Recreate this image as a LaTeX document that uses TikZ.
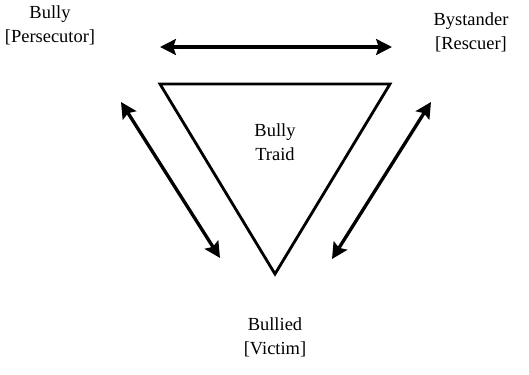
\documentclass[tikz,border=0pt]{standalone}
\usepackage{fontspec}
\setmainfont{Liberation Serif}
\usetikzlibrary{arrows.meta}
\begin{document}
\begin{tikzpicture}[x=0.02cm, y=-0.02cm, every node/.style={align=center, font=\fontsize{10.5}{13.6}\selectfont, inner sep=0pt},<->,>={Stealth[length=9pt,width=9pt,inset=1.5pt]},line width=1.9pt]
            \useasboundingbox (0,0) rectangle (529,375);
            \coordinate (tl) at (160,84);
            \coordinate (tr) at (390,84);
            \coordinate (bt) at (275,274);
            \node (bully) at (50,25) {Bully\\{[Persecutor]}};
            \node (bystander) at (471,32) {Bystander\\{[Rescuer]}};
            \node (bullied) at (275,337) {Bullied\\{[Victim]}};
            \node (triad) at (275,142) {Bully\\Traid};
            \coordinate (a1) at (160,47);
            \coordinate (a2) at (392,47);
            \coordinate (b1) at (121,102);
            \coordinate (b2) at (220,258);
            \coordinate (c1) at (431,102);
            \coordinate (c2) at (332,259);
            \draw[-, line width=1.6pt, line join=miter] (tl) -- (tr) -- (bt) -- cycle;
            \draw (a1) -- (a2);
            \draw (b1) -- (b2);
            \draw (c1) -- (c2);
        \end{tikzpicture}
\end{document}
